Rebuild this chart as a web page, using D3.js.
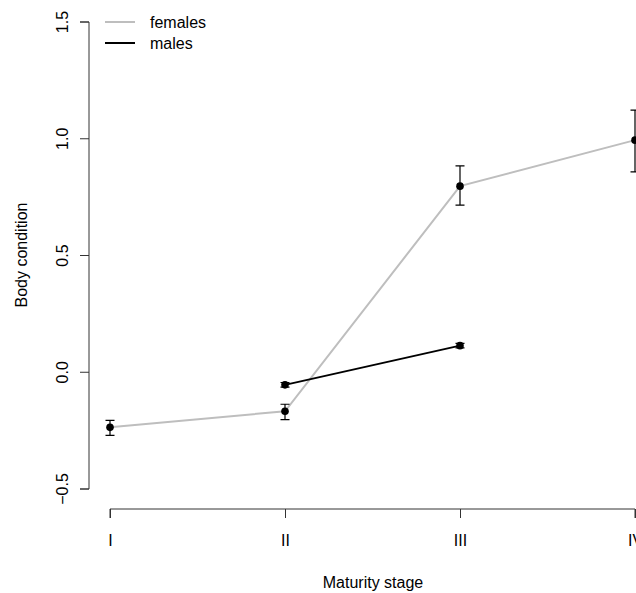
<!DOCTYPE html>
<html lang="en">
<head>
  <meta charset="UTF-8">
  <title>Body condition by maturity stage</title>
  <script src="https://d3js.org/d3.v7.min.js"></script>
  <style>
    body { margin: 0; background: #fff; }
    text { font-family: "Liberation Sans", Arial, sans-serif; }
  </style>
</head>
<body>
<svg width="636" height="593"></svg>
<script>
  // data
  const stages = ["I", "II", "III", "IV"];
  const femaleMean = [-0.236, -0.167, 0.797, 0.994];
  const femaleLow  = [-0.270, -0.203, 0.716, 0.858];
  const femaleHigh = [-0.206, -0.137, 0.884, 1.123];
  const maleStages = ["II", "III"];
  const maleMean = [-0.054, 0.114];
  const maleLow  = [-0.064, 0.104];
  const maleHigh = [-0.044, 0.124];
  const yTicks = [-0.5, 0.0, 0.5, 1.0, 1.5];

  const svg = d3.select("svg");

  const x = d3.scalePoint().domain(stages).range([110, 635]);
  const y = d3.scaleLinear().domain([-0.5, 1.5]).range([489, 22]);

  const females = stages.map((s, i) => ({ s, m: femaleMean[i], lo: femaleLow[i], hi: femaleHigh[i] }));
  const males = maleStages.map((s, i) => ({ s, m: maleMean[i], lo: maleLow[i], hi: maleHigh[i] }));

  // y axis (R style: labels rotated, parallel to the axis)
  const yAxis = svg.append("g")
    .attr("transform", "translate(89,0)")
    .call(d3.axisLeft(y).tickValues(yTicks).tickSize(9).tickFormat(d3.format(".1f")));
  yAxis.selectAll("path, line").attr("stroke", "#333");
  yAxis.select(".domain").attr("d", "M-9," + y(-0.5) + "H0V" + y(1.5) + "H-9");
  yAxis.selectAll(".tick").attr("transform", null);
  yAxis.selectAll(".tick line").attr("transform", d => "translate(0," + y(d) + ")");
  yAxis.selectAll(".tick text")
    .attr("font-size", 16).attr("fill", "#000")
    .attr("text-anchor", "middle")
    .attr("transform", "rotate(-90)")
    .attr("dy", null)
    .attr("x", d => -y(d))
    .attr("y", -21);

  // x axis
  const xAxis = svg.append("g")
    .attr("transform", "translate(0,509)")
    .call(d3.axisBottom(x).tickSize(9).tickPadding(17));
  xAxis.selectAll("path, line").attr("stroke", "#333");
  xAxis.select(".domain").attr("d", "M" + x("I") + ",9V0H" + x("IV") + "V9");
  xAxis.selectAll(".tick text").attr("font-size", 16).attr("fill", "#000");

  // axis titles
  svg.append("text")
    .attr("x", 373).attr("y", 588)
    .attr("text-anchor", "middle").attr("font-size", 16)
    .text("Maturity stage");
  svg.append("text")
    .attr("transform", "translate(27,255) rotate(-90)")
    .attr("text-anchor", "middle").attr("font-size", 16)
    .text("Body condition");

  const line = d3.line().x(d => x(d.s)).y(d => y(d.m));

  function drawSeries(data, color) {
    const g = svg.append("g");
    g.append("path").datum(data)
      .attr("d", line).attr("fill", "none")
      .attr("stroke", color).attr("stroke-width", 2);
    g.selectAll(".err").data(data).join("path")
      .attr("class", "err")
      .attr("fill", "none").attr("stroke", "#000").attr("stroke-width", 1.2)
      .attr("d", d => {
        const cx = x(d.s);
        return "M" + (cx - 4.5) + "," + y(d.hi) + "H" + (cx + 4.5) +
               "M" + cx + "," + y(d.hi) + "V" + y(d.lo) +
               "M" + (cx - 4.5) + "," + y(d.lo) + "H" + (cx + 4.5);
      });
    g.selectAll("circle").data(data).join("circle")
      .attr("cx", d => x(d.s)).attr("cy", d => y(d.m))
      .attr("r", 3.8).attr("fill", "#000");
  }

  drawSeries(females, "#bebebe");
  drawSeries(males, "#000");

  // legend
  const legend = svg.append("g");
  const legendItems = [{ name: "females", color: "#bebebe" }, { name: "males", color: "#000" }];
  legendItems.forEach((d, i) => {
    const ly = 22 + i * 21;
    legend.append("line")
      .attr("x1", 105).attr("x2", 135).attr("y1", ly).attr("y2", ly)
      .attr("stroke", d.color).attr("stroke-width", 2);
    legend.append("text")
      .attr("x", 150).attr("y", ly + 6).attr("font-size", 16)
      .text(d.name);
  });
</script>
</body>
</html>
